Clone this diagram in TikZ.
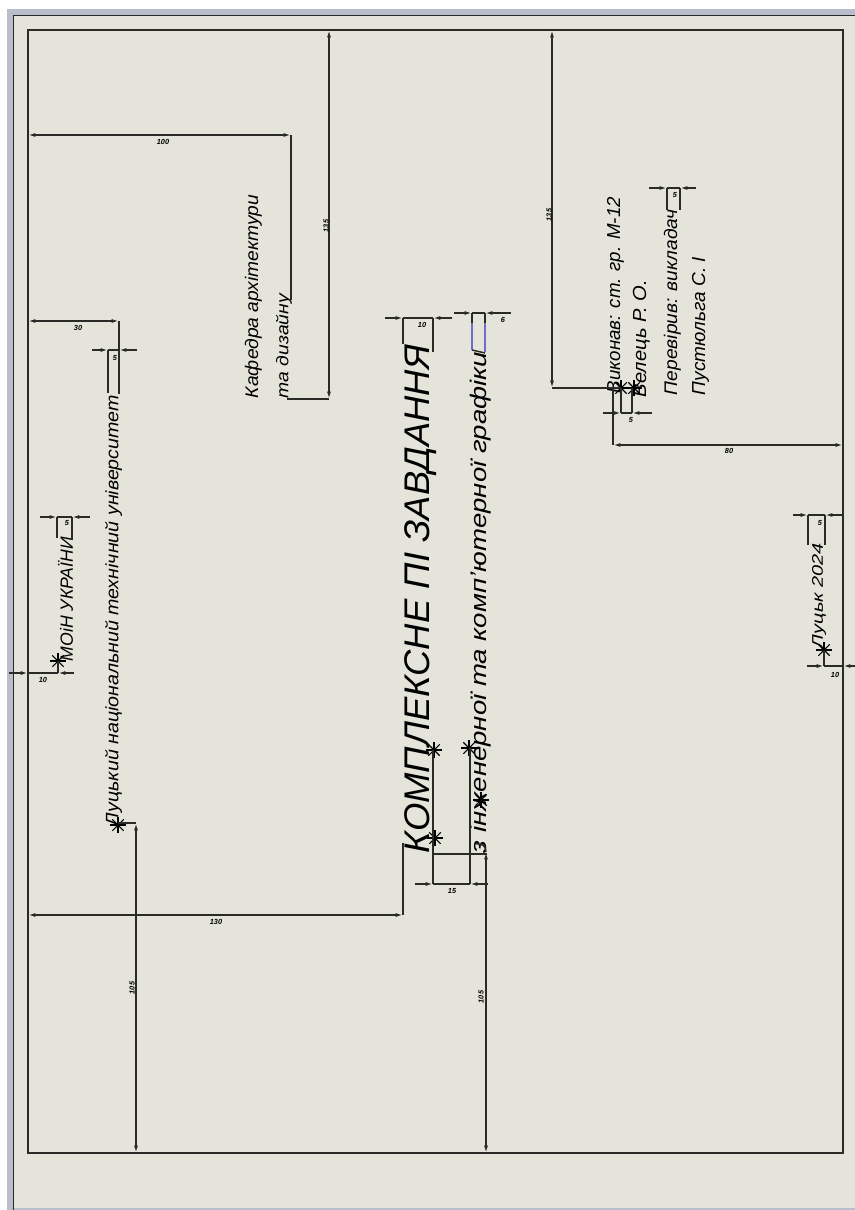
\documentclass[tikz,border=0pt]{standalone}
\usepackage{fontspec}
\usepackage{graphicx}
\setmainfont{Liberation Sans}
\usetikzlibrary{arrows.meta}
\definecolor{paper}{HTML}{E4E4DB}
\definecolor{band}{HTML}{B9BDCC}
\definecolor{ink}{HTML}{2A2A26}
\definecolor{selblue}{HTML}{6E6EC8}
% NOTE: the dimension values in the reference are illegible blurs even when
% zoomed; the numbers in the dimlabel/vlabel nodes below are placeholders,
% not readings of the original.
% width, height of the rotated text in reference pixels
\newcommand{\fittext}[3]{\resizebox*{\dimexpr#1pt*3/4\relax}{\dimexpr#2pt*3/4\relax}{\itshape #3}}
\tikzset{
  x=0.75pt,y=-0.75pt,
  thin line/.style={ink,line width=1.1pt},
  dimline/.style={ink,line width=1.1pt,{Latex[length=5.5pt,width=3pt]}-{Latex[length=5.5pt,width=3pt]}},
  dimend/.style={ink,line width=1.1pt,-{Latex[length=5.5pt,width=3pt]}},
  rtext/.style={rotate=90,anchor=south west,inner sep=0pt,outer sep=0pt,text=black},
  dimlabel/.style={inner sep=0pt,text=black,font=\itshape\bfseries\fontsize{5.5}{6}\selectfont},
  vlabel/.style={dimlabel,rotate=90},
  starray/.style={black,line width=0.8pt},
}
% an eight-rayed construction mark, its centre named
\newcommand{\starat}[2]{%
  \coordinate (#1) at (#2);
  \draw[starray,line width=1.6pt] (#1) ++(-3,0) -- ++(6,0);
  \foreach \starang in {0,45,90,135}
    \draw[starray] (#1) ++(\starang:8) -- ++(\starang+180:16);
}
\begin{document}
\begin{tikzpicture}
\useasboundingbox (0,0) rectangle (855,1210);
\fill[white] (0,0) rectangle (855,1210);
\fill[band] (7,9) rectangle (855,1210);
\fill[paper] (14,16) rectangle (855,1208);
\draw[ink,line width=1.1pt] (13.5,1210) -- (13.5,15.5) -- (855,15.5);
\draw[ink,line width=1.5pt] (28,30) rectangle (843,1153);

% named corners on the frame
\coordinate (t1) at (329,30);
\coordinate (t2) at (552,30);
\coordinate (b1) at (136,1153);
\coordinate (b2) at (486,1153);
\coordinate (l1) at (28,135);
\coordinate (l2) at (28,321);
\coordinate (l3) at (28,915);
\coordinate (r1) at (843,445);

% texts
\node[rtext] (kaf1) at (262,398) {\fittext{203}{17}{Кафедра архітектури}};
\node[rtext] (kaf2) at (292,398) {\fittext{104}{16}{та дизайну}};
\node[rtext] (univ) at (122,826) {\fittext{431}{17}{Луцький національний технічний університет}};
\node[rtext] (moin) at (73,661) {\fittext{124}{15}{МОіН УКРАЇНИ}};
\node[rtext] (title) at (437,853) {\fittext{508}{32}{КОМПЛЕКСНЕ ПІ ЗАВДАННЯ}};
\node[rtext] (subt) at (491,853) {\fittext{501}{21}{з інженерної та комп'ютерної графіки}};
\node[rtext] (vyk) at (624,393) {\fittext{196}{17}{Виконав: ст. гр. М-12}};
\node[rtext] (vel) at (650,397) {\fittext{117}{17}{Велець Р. О.}};
\node[rtext] (per) at (681,395) {\fittext{185}{17}{Перевірив: викладач}};
\node[rtext] (pus) at (709,395) {\fittext{138}{17}{Пустюльга С. І}};
\node[rtext] (luck) at (826,648) {\fittext{105}{14}{Луцьк 2024}};

% stars
\starat{s1}{58,661}
\starat{s2}{118,825}
\starat{s3}{434,750}
\starat{s4}{435,838}
\starat{s5}{469,748}
\starat{s6}{481,800}
\starat{s7}{621,388}
\starat{s8}{634,388}
\starat{s9}{824,650}

% Kafedra dims
\coordinate (k1) at (329,399);
\draw[dimline] (t1) -- (k1);
\node[vlabel] (kd1) at (326,226) {135};
\draw[thin line] (k1) -- (287,399);
\coordinate (k2) at (291,135);
\draw[dimline] (l1) -- (k2);
\node[dimlabel] (kd2) at (163,142) {100};
\draw[thin line] (k2) -- (291,300);

% university
\coordinate (u1) at (119,321);
\draw[dimline] (l2) -- (u1);
\node[dimlabel] (ud0) at (78,328) {30};
\draw[thin line] (u1) -- (119,394);
\draw[thin line] (108,350) -- (108,393);
\draw[dimend] (92,350) -- (108,350);
\draw[dimend] (137,350) -- (119,350);
\draw[thin line] (108,350) -- (119,350);
\node[dimlabel] (ud) at (115,358) {5};

% moin
\draw[dimend] (40,517) -- (57,517);
\draw[dimend] (90,517) -- (72,517);
\draw[thin line] (57,517) -- (72,517);
\draw[thin line] (57,517) -- (57,538);
\draw[thin line] (72,517) -- (72,540);
\node[dimlabel] (md) at (67,523) {5};
\draw[dimend] (9,673) -- (28,673);
\draw[dimend] (74,673) -- (58,673);
\draw[thin line] (28,673) -- (58,673);
\draw[thin line] (s1) -- (58,673);
\node[dimlabel] (md2) at (43,680) {10};

% lower left
\coordinate (u2) at (136,823);
\draw[thin line] (118,823) -- (u2);
\draw[dimline] (u2) -- (b1);
\node[vlabel] (bd1) at (132,988) {105};

% title dims
\coordinate (c1) at (403,915);
\draw[dimline] (l3) -- (c1);
\node[dimlabel] (cd) at (216,922) {130};
\draw[thin line] (c1) -- (403,843);
\draw[dimend] (385,318) -- (403,318);
\draw[dimend] (452,318) -- (433,318);
\draw[thin line] (403,318) -- (433,318);
\draw[thin line] (403,318) -- (403,344);
\draw[thin line] (433,318) -- (433,352);
\node[dimlabel] (td) at (422,325) {10};
\draw[dimend] (454,313) -- (472,313);
\draw[dimend] (511,313) -- (485,313);
\draw[thin line] (472,313) -- (485,313);
\draw[thin line] (472,313) -- (472,323);
\draw[thin line] (485,313) -- (485,323);
\draw[selblue,line width=1.1pt] (472,323) -- (472,350);
\draw[selblue,line width=1.1pt] (485,323) -- (485,352);
\draw[thin line] (472,350) -- (485,353);
\node[dimlabel] (sd) at (503,320) {6};

% lower title ladder
\draw[dimend] (415,884) -- (433,884);
\draw[dimend] (488,884) -- (470,884);
\draw[thin line] (433,884) -- (470,884);
\draw[thin line] (433,750) -- (433,884);
\draw[thin line] (470,748) -- (470,884);
\draw[thin line] (433,854) -- (487,854);
\node[dimlabel] (ld) at (452,891) {15};
\coordinate (v3) at (486,852);
\draw[thin line] (476,844) .. controls (482,843) and (486,846) .. (v3);
\draw[dimline] (v3) -- (b2);
\node[vlabel] (bd2) at (481,997) {105};

% right group
\coordinate (p1) at (552,388);
\draw[dimline] (t2) -- (p1);
\node[vlabel] (pd1) at (549,215) {135};
\draw[thin line] (p1) -- (s7);
\draw[thin line] (613,388) -- (613,445);
\draw[thin line] (s7) -- (621,413);
\draw[thin line] (632,388) -- (632,413);
\draw[dimend] (603,413) -- (621,413);
\draw[dimend] (652,413) -- (632,413);
\draw[thin line] (621,413) -- (632,413);
\node[dimlabel] (vd) at (631,420) {5};
\coordinate (p2) at (613,445);
\draw[dimline] (p2) -- (r1);
\node[dimlabel] (pd2) at (729,451) {80};
\draw[dimend] (649,188) -- (667,188);
\draw[dimend] (696,188) -- (680,188);
\draw[thin line] (667,188) -- (680,188);
\draw[thin line] (667,188) -- (667,210);
\draw[thin line] (680,188) -- (680,210);
\node[dimlabel] (pd) at (675,195) {5};

% Lutsk
\draw[dimend] (793,515) -- (808,515);
\draw[dimend] (842,515) -- (825,515);
\draw[thin line] (808,515) -- (825,515);
\draw[thin line] (808,515) -- (808,545);
\draw[thin line] (825,515) -- (825,545);
\node[dimlabel] (ld1) at (820,523) {5};
\draw[dimend] (807,666) -- (824,666);
\draw[dimend] (855,666) -- (843,666);
\draw[thin line] (824,666) -- (843,666);
\draw[thin line] (s9) -- (824,666);
\node[dimlabel] (ld2) at (835,675) {10};
\end{tikzpicture}
\end{document}
